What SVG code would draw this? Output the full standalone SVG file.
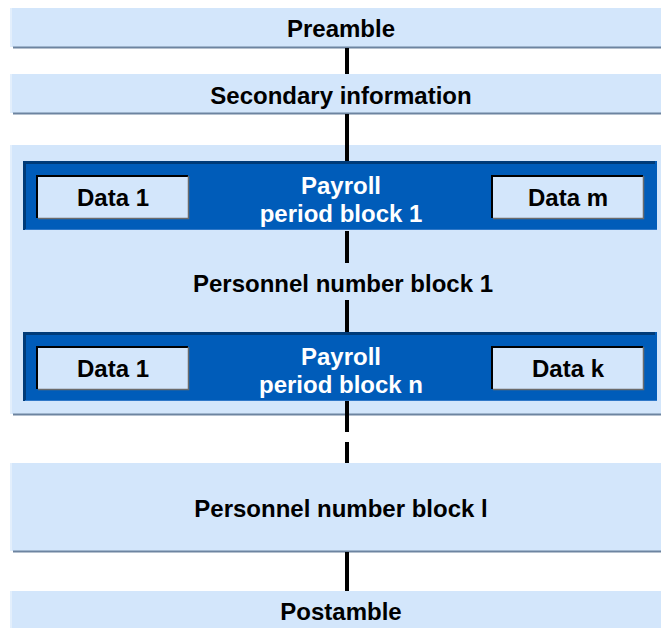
<svg xmlns="http://www.w3.org/2000/svg" width="661" height="628" viewBox="0 0 661 628">
<style>
.band{fill:#d3e6fb}
.hl{fill:#e3effc}
.edge{stroke:#6d84a0;stroke-width:2}
.dark{fill:#005cb9}
.darkedge{stroke:#003b78;stroke-width:3;fill:none}
.data{fill:#d3e6fb}
.t{font-family:"Liberation Sans",Arial,sans-serif;font-weight:bold;font-size:24px;text-anchor:middle;fill:#000}
.w{fill:#fff}
.conn line{stroke:#000;stroke-width:4}
</style>
<rect width="661" height="628" fill="#fff"/>
<g id="preamble">
<rect class="band" x="10" y="8" width="651" height="39"/>
<rect class="hl" x="10" y="8" width="2" height="39"/>
<line class="edge" x1="13" y1="47.5" x2="661" y2="47.5"/>
<text class="t" x="341" y="37">Preamble</text>
</g>
<g id="secondary">
<rect class="band" x="10" y="74" width="651" height="39"/>
<rect class="hl" x="10" y="74" width="2" height="39"/>
<line class="edge" x1="13" y1="113.5" x2="661" y2="113.5"/>
<text class="t" x="341" y="104">Secondary information</text>
</g>
<g id="pnb1">
<rect class="band" x="10" y="145" width="651" height="269"/>
<rect class="hl" x="10" y="145" width="2" height="269"/>
<line class="edge" x1="13" y1="414.5" x2="661" y2="414.5"/>
<text class="t" x="343" y="292">Personnel number block 1</text>
</g>
<g id="ppb1">
<rect class="dark" x="23" y="161" width="634" height="69"/>
<path class="darkedge" d="M24.5 230V162.5H655"/>
<line x1="25" y1="229.5" x2="657" y2="229.5" stroke="#2f78c8" stroke-width="1"/>
<text class="t w" x="341" y="194">Payroll</text>
<text class="t w" x="341" y="222">period block 1</text>
</g>
<g id="ppb1-data1">
<rect class="data" x="37" y="175" width="151" height="43"/>
<path d="M37 218V176H188" stroke="#000" stroke-width="2" fill="none"/>
<path d="M38 218.5H188.5V176" stroke="#6b6b6b" stroke-width="1.5" fill="none"/>
<text class="t" x="113" y="206">Data 1</text>
</g>
<g id="ppb1-datam">
<rect class="data" x="492" y="175" width="151" height="43"/>
<path d="M492 218V176H643" stroke="#000" stroke-width="2" fill="none"/>
<path d="M493 218.5H643.5V176" stroke="#6b6b6b" stroke-width="1.5" fill="none"/>
<text class="t" x="568" y="206">Data m</text>
</g>
<g id="ppbn">
<rect class="dark" x="23" y="332" width="634" height="69"/>
<path class="darkedge" d="M24.5 401V333.5H655"/>
<line x1="25" y1="400.5" x2="657" y2="400.5" stroke="#2f78c8" stroke-width="1"/>
<text class="t w" x="341" y="365">Payroll</text>
<text class="t w" x="341" y="393">period block n</text>
</g>
<g id="ppbn-data1">
<rect class="data" x="37" y="346" width="151" height="43"/>
<path d="M37 389V347H188" stroke="#000" stroke-width="2" fill="none"/>
<path d="M38 389.5H188.5V347" stroke="#6b6b6b" stroke-width="1.5" fill="none"/>
<text class="t" x="113" y="377">Data 1</text>
</g>
<g id="ppbn-datak">
<rect class="data" x="492" y="346" width="151" height="43"/>
<path d="M492 389V347H643" stroke="#000" stroke-width="2" fill="none"/>
<path d="M493 389.5H643.5V347" stroke="#6b6b6b" stroke-width="1.5" fill="none"/>
<text class="t" x="568" y="377">Data k</text>
</g>
<g id="pnbl">
<rect class="band" x="10" y="463" width="651" height="88"/>
<rect class="hl" x="10" y="463" width="2" height="88"/>
<line class="edge" x1="13" y1="551.5" x2="661" y2="551.5"/>
<text class="t" x="341" y="517">Personnel number block l</text>
</g>
<g id="postamble">
<rect class="band" x="10" y="591" width="651" height="37"/>
<rect class="hl" x="10" y="591" width="2" height="37"/>
<text class="t" x="341" y="620">Postamble</text>
</g>
<g class="conn" id="connectors">
<line x1="347" y1="48" x2="347" y2="74"/>
<line x1="347" y1="114" x2="347" y2="161"/>
<line x1="347" y1="231" x2="347" y2="263"/>
<line x1="347" y1="300" x2="347" y2="332"/>
<line x1="347" y1="401" x2="347" y2="432"/>
<line x1="347" y1="442" x2="347" y2="463"/>
<line x1="347" y1="552" x2="347" y2="591"/>
</g>
</svg>
